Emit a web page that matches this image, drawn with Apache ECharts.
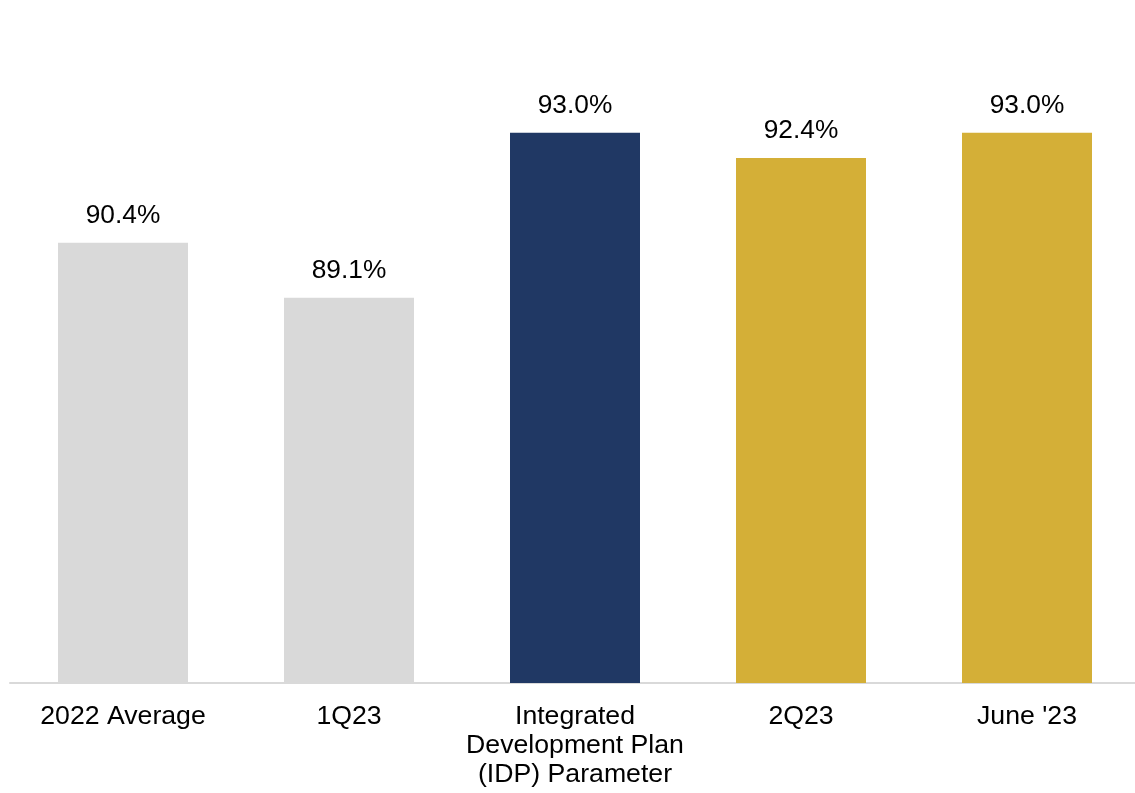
<!DOCTYPE html>
<html>
<head>
<meta charset="utf-8">
<script src="https://cdn.jsdelivr.net/npm/echarts@6/dist/echarts.min.js"></script>
<style>
  html, body { margin: 0; padding: 0; background: #ffffff; overflow: hidden; }
  #chart { width: 1140px; height: 793px; }
</style>
</head>
<body>
<div id="chart"></div>
<script>
// Utilization by period
const categories = ['2022 Average', '1Q23', 'Integrated\nDevelopment Plan\n(IDP) Parameter', '2Q23', "June '23"];
const values = [90.4, 89.1, 93.0, 92.4, 93.0];
const barColors = ['#d9d9d9', '#d9d9d9', '#203864', '#d4af37', '#d4af37'];

const chart = echarts.init(document.getElementById('chart'), null, { renderer: 'canvas' });

chart.setOption({
  animation: false,
  backgroundColor: '#ffffff',
  grid: { left: 10, right: 0, top: 48, bottom: 110, containLabel: false },
  xAxis: {
    type: 'category',
    data: categories,
    axisLine: { show: true, lineStyle: { color: '#d9d9d9', width: 2 } },
    axisTick: { show: false },
    axisLabel: {
      interval: 0,
      color: '#000000',
      fontFamily: 'Liberation Sans, Arial, sans-serif',
      fontSize: 26.67,
      lineHeight: 29,
      margin: 19
    }
  },
  yAxis: {
    type: 'value',
    min: 80,
    max: 95,
    show: false,
    splitLine: { show: false }
  },
  series: [{
    type: 'bar',
    data: values.map((v, i) => ({ value: v, itemStyle: { color: barColors[i] } })),
    barWidth: 130,
    label: {
      show: true,
      position: 'top',
      distance: 14,
      color: '#000000',
      fontFamily: 'Liberation Sans, Arial, sans-serif',
      fontSize: 26.3,
      formatter: p => p.value.toFixed(1) + '%'
    }
  }]
});
</script>
</body>
</html>
